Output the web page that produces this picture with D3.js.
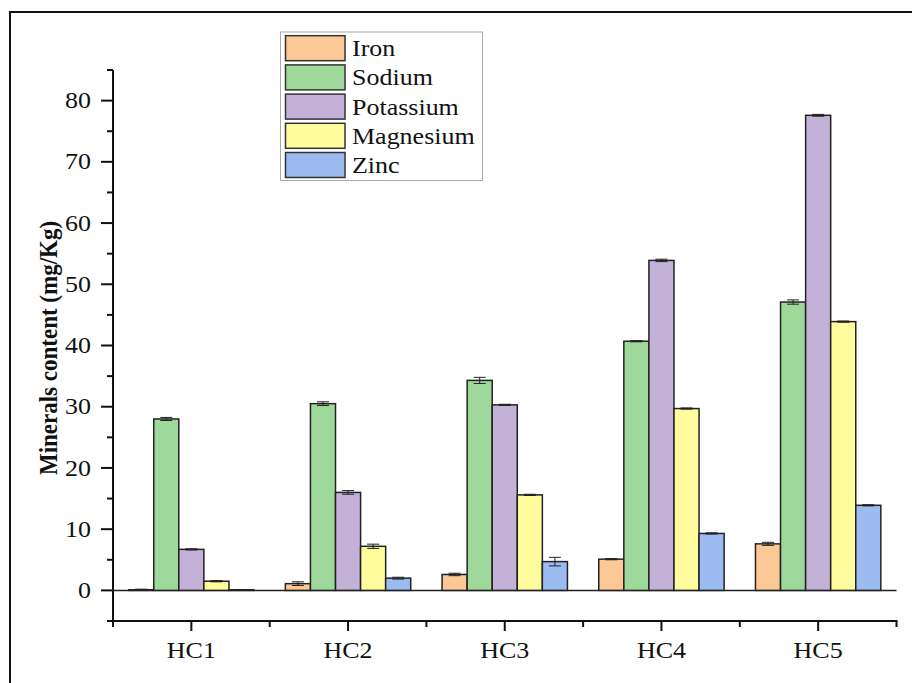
<!DOCTYPE html>
<html>
<head>
<meta charset="utf-8">
<script src="https://cdn.jsdelivr.net/npm/d3@7"></script>
<style>
  html, body { margin: 0; padding: 0; background: #fff; }
  svg { display: block; }
</style>
</head>
<body>
<div id="chart"></div>
<script>
// ---- data ----
const categories = ["HC1", "HC2", "HC3", "HC4", "HC5"];
const seriesNames = ["Iron", "Sodium", "Potassium", "Magnesium", "Zinc"];
const ironValues      = [0.1, 1.1, 2.6, 5.1, 7.6];
const sodiumValues    = [28.0, 30.5, 34.3, 40.7, 47.1];
const potassiumValues = [6.7, 16.0, 30.3, 53.9, 77.6];
const magnesiumValues = [1.5, 7.2, 15.6, 29.7, 43.9];
const zincValues      = [0.1, 2.0, 4.7, 9.3, 13.9];
const ironErrors      = [0.1, 0.3, 0.2, 0.1, 0.25];
const sodiumErrors    = [0.25, 0.3, 0.5, 0.1, 0.35];
const potassiumErrors = [0.1, 0.3, 0.1, 0.2, 0.15];
const magnesiumErrors = [0.1, 0.35, 0.1, 0.1, 0.1];
const zincErrors      = [0.05, 0.15, 0.7, 0.1, 0.1];
const yTickValues = [0, 10, 20, 30, 40, 50, 60, 70, 80];
const yDomain = [-5, 85];

// ---- styles ----
const colors = ["#FCC896", "#9ED99B", "#C3B1D8", "#FEFC9C", "#9BBBF1"];
const FONT = "Liberation Serif";

const seriesValues = [ironValues, sodiumValues, potassiumValues, magnesiumValues, zincValues];
const seriesErrors = [ironErrors, sodiumErrors, potassiumErrors, magnesiumErrors, zincErrors];

const W = 912, H = 683;
const sx = 1.13; // horizontal glyph stretch of the original

const svg = d3.select("#chart").append("svg").attr("width", W).attr("height", H);

svg.append("rect").attr("x", 10).attr("y", 12).attr("width", 920).attr("height", 700)
  .attr("fill", "none").attr("stroke", "#111").attr("stroke-width", 2);

const x0 = 113, x1 = 896.5;
const y = d3.scaleLinear().domain(yDomain).range([621, 70]);
const x = d3.scaleBand().domain(categories).range([x0, x1]).paddingInner(0).paddingOuter(0);
const groupW = x.bandwidth() * 0.8;
const xs = d3.scaleBand().domain(seriesNames).range([0, groupW]).padding(0);

function stretchedText(parent, tx, ty, str, opts) {
  const g = parent.append("g").attr("transform", `translate(${tx},${ty}) scale(${sx},1)`);
  const t = g.append("text").text(str)
    .attr("font-family", FONT)
    .attr("fill", "#111")
    .attr("font-size", opts.size)
    .attr("text-anchor", opts.anchor || "start");
  if (opts.dy) t.attr("dy", opts.dy);
  return t;
}

svg.append("line").attr("x1", x0).attr("x2", x1).attr("y1", y(0)).attr("y2", y(0))
  .attr("stroke", "#222").attr("stroke-width", 1.5);

const groups = svg.append("g").selectAll("g").data(categories).join("g")
  .attr("transform", d => `translate(${x(d) + (x.bandwidth() - groupW) / 2},0)`);

seriesNames.forEach((s, si) => {
  groups.append("rect")
    .attr("x", xs(s))
    .attr("width", xs.bandwidth())
    .attr("y", (d, ci) => y(seriesValues[si][ci]))
    .attr("height", (d, ci) => y(0) - y(seriesValues[si][ci]))
    .attr("fill", colors[si])
    .attr("stroke", "#222")
    .attr("stroke-width", 1.5);
});

seriesNames.forEach((s, si) => {
  const cx = xs(s) + xs.bandwidth() / 2;
  const cap = 6;
  groups.each(function(d, ci) {
    const v = seriesValues[si][ci], e = seriesErrors[si][ci];
    const g = d3.select(this);
    g.append("line").attr("x1", cx).attr("x2", cx).attr("y1", y(v + e)).attr("y2", y(v - e))
      .attr("stroke", "#222").attr("stroke-width", 1);
    [v + e, v - e].forEach(val => {
      g.append("line").attr("x1", cx - cap).attr("x2", cx + cap).attr("y1", y(val)).attr("y2", y(val))
        .attr("stroke", "#222").attr("stroke-width", 1);
    });
  });
});

const yAxisG = svg.append("g");
yAxisG.append("line").attr("x1", x0).attr("x2", x0).attr("y1", y(yDomain[1])).attr("y2", y(yDomain[0]))
  .attr("stroke", "#111").attr("stroke-width", 2);
d3.range(-5, 86, 5).forEach(v => {
  const major = yTickValues.includes(v);
  yAxisG.append("line").attr("x1", x0).attr("x2", x0 - (major ? 12 : 6))
    .attr("y1", y(v)).attr("y2", y(v)).attr("stroke", "#111").attr("stroke-width", 2);
});
yTickValues.forEach(v => {
  stretchedText(yAxisG, 91, y(v), String(v), { size: 23, anchor: "end", dy: "0.33em" });
});

const xAxisG = svg.append("g");
xAxisG.append("line").attr("x1", x0 - 1).attr("x2", x1 + 1).attr("y1", y(yDomain[0])).attr("y2", y(yDomain[0]))
  .attr("stroke", "#111").attr("stroke-width", 2);
categories.forEach(c => {
  const cx = x(c) + x.bandwidth() / 2;
  xAxisG.append("line").attr("x1", cx).attr("x2", cx).attr("y1", y(yDomain[0])).attr("y2", y(yDomain[0]) + 10)
    .attr("stroke", "#111").attr("stroke-width", 2);
  stretchedText(xAxisG, cx, 657.5, c, { size: 23, anchor: "middle" });
});
const bounds = categories.map(c => x(c)).concat([x1]);
bounds.forEach(bx => {
  xAxisG.append("line").attr("x1", bx).attr("x2", bx).attr("y1", y(yDomain[0])).attr("y2", y(yDomain[0]) + 6)
    .attr("stroke", "#111").attr("stroke-width", 2);
});

svg.append("g").attr("transform", "translate(57,348) rotate(-90) scale(1,1.13)")
  .append("text").text("Minerals content (mg/Kg)")
  .attr("font-family", FONT).attr("fill", "#111")
  .attr("text-anchor", "middle").attr("font-size", 23).attr("font-weight", "bold");

const lg = svg.append("g");
lg.append("rect").attr("x", 280.5).attr("y", 32).attr("width", 202).attr("height", 148.5)
  .attr("fill", "#fff").attr("stroke", "#aaa").attr("stroke-width", 1);
seriesNames.forEach((s, i) => {
  const ry = 35.7 + i * 29.2;
  lg.append("rect").attr("x", 285.5).attr("y", ry).attr("width", 59.5).attr("height", 25)
    .attr("fill", colors[i]).attr("stroke", "#333").attr("stroke-width", 1.5);
  stretchedText(lg, 352, ry + 20.5, s, { size: 23 });
});
</script>
</body>
</html>
